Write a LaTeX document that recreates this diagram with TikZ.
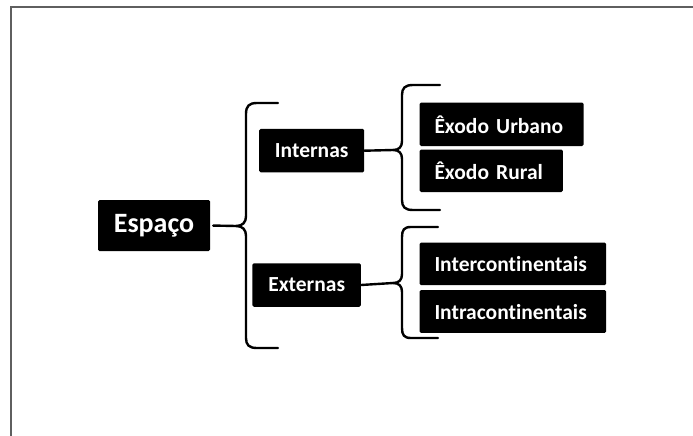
\documentclass[tikz,border=0pt]{standalone}
\usepackage{fontspec}
\setmainfont[Ligatures=NoCommon]{Carlito}
\definecolor{framegray}{RGB}{95,95,95}
\tikzset{
  box/.style={fill=black, text=white, rounded corners=1.5pt, inner sep=0pt,
    font=\fontsize{21.5}{25}\selectfont\bfseries},
  bigbox/.style={box, font=\fontsize{28}{32}\selectfont\bfseries},
  leftbox/.style={box, anchor=north west, align=left, inner xsep=15pt},
  bracel/.style={line width=2.4pt, line cap=round, line join=round},
  conn/.style={line width=2.4pt, line cap=round}
}
\begin{document}
\begin{tikzpicture}[x=1pt,y=-1pt]
\useasboundingbox (0,0) rectangle (693,436);
% frame
\draw[framegray, line width=2pt] (11,436) -- (11,7) -- (693,7);
% nodes
\node[bigbox, minimum width=112pt, minimum height=51pt] (esp) at (154,225.5) {Espaço};
\node[box, minimum width=105pt, minimum height=43.5pt] (int) at (311.7,150.7) {Internas};
\node[box, minimum width=108.5pt, minimum height=43.5pt] (ext) at (306.7,285) {Externas};
\node[leftbox, text width=134pt, minimum height=43.5pt] (eu) at (419.3,102.3) {Êxodo Urbano};
\node[leftbox, text width=113.4pt, minimum height=42.5pt] (er) at (419.3,149.3) {Êxodo Rural};
\node[leftbox, text width=156.7pt, minimum height=42.7pt] (ic) at (419.3,242.3) {Intercontinentais};
\node[leftbox, text width=156.7pt, minimum height=42.7pt] (ia) at (419.3,290) {Intracontinentais};
% brace tips
\coordinate (t1) at (236,226);
\coordinate (t2) at (393,150);
\coordinate (t3) at (393,283);
% big brace
\draw[bracel] (278,103) -- (257,103) .. controls (249,103) and (246,106) .. (246,114)
  -- (246,216) .. controls (246,222) and (243,226) .. (t1)
  .. controls (243,226) and (246,230) .. (246,236)
  -- (246,338) .. controls (246,345) and (249,348) .. (257,348) -- (278,348);
% internas brace
\draw[bracel] (440,85) -- (413,85) .. controls (405,85) and (402,88) .. (402,95)
  -- (402,141) .. controls (402,147) and (399,150) .. (t2)
  .. controls (399,150) and (402,153) .. (402,159)
  -- (402,200) .. controls (402,207) and (405,210) .. (413,210) -- (440,210);
% externas brace
\draw[bracel] (438,227) -- (411,227) .. controls (404,227) and (402,230) .. (402,237)
  -- (402,274) .. controls (402,280) and (399,283) .. (t3)
  .. controls (399,283) and (402,286) .. (402,292)
  -- (402,328) .. controls (402,335) and (404,338) .. (411,338) -- (438,338);
% connectors
\draw[conn, shorten <=3pt] (esp.east) -- (t1);
\draw[conn] (int.east) -- (t2);
\draw[conn] (ext.east) -- (t3);
\end{tikzpicture}
\end{document}
